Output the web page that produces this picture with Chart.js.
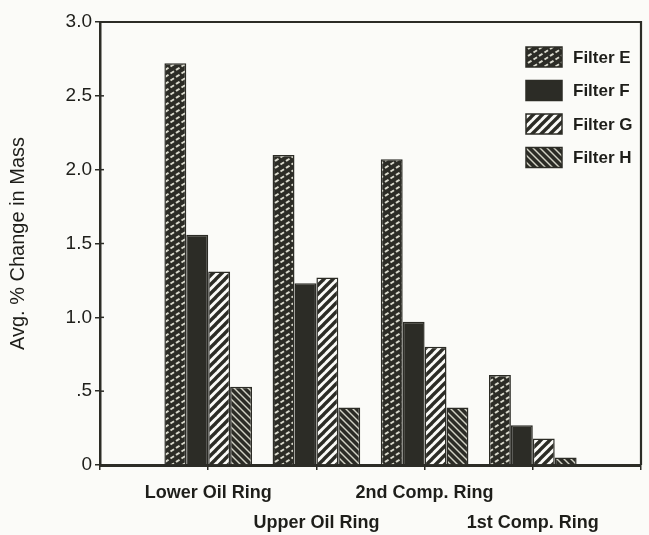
<!DOCTYPE html>
<html>
<head>
<meta charset="utf-8">
<title>Avg. % Change in Mass by ring and filter</title>
<script src="https://cdn.jsdelivr.net/npm/chart.js@4/dist/chart.umd.min.js"></script>
<style>
  html, body { margin: 0; padding: 0; background: #fbfbf8; }
  #wrap { width: 649px; height: 535px; }
</style>
</head>
<body>
<div id="wrap"><canvas id="c" width="649" height="535"></canvas></div>
<script>
// Ring positions along the x axis
const categories = ['Lower Oil Ring', 'Upper Oil Ring', '2nd Comp. Ring', '1st Comp. Ring'];

// Average % change in mass per filter
const filterE = [2.72, 2.10, 2.07, 0.61];
const filterF = [1.56, 1.23, 0.97, 0.27];
const filterG = [1.31, 1.27, 0.80, 0.18];
const filterH = [0.53, 0.39, 0.39, 0.05];

const seriesNames = ['Filter E', 'Filter F', 'Filter G', 'Filter H'];
const yTickLabels = ['0', '.5', '1.0', '1.5', '2.0', '2.5', '3.0'];

const INK = '#2c2c26';
const PAPER = '#fbfbf8';
const TEXT = '#1e1e1a';
const FONT = "'Liberation Sans', Arial, sans-serif";

const canvas = document.getElementById('c');
const ctx = canvas.getContext('2d');

// Diagonal hatch tile; dir > 0 rises to the right, dir < 0 falls to the right.
function hatch(w, h, bg, fg, lw, dir, dashFrac) {
  const t = document.createElement('canvas');
  t.width = w; t.height = h;
  const g = t.getContext('2d');
  g.fillStyle = bg;
  g.fillRect(0, 0, w, h);
  g.strokeStyle = fg;
  g.lineWidth = lw;
  if (dashFrac) {
    const L = Math.hypot(w, h);
    g.setLineDash(dashFrac.map(f => f * L));
  }
  for (let k = -1; k <= 1; k++) {
    g.beginPath();
    if (dir > 0) { g.moveTo(-w, 2 * h + k * h); g.lineTo(2 * w, -h + k * h); }
    else { g.moveTo(-w, -h + k * h); g.lineTo(2 * w, 2 * h + k * h); }
    g.stroke();
  }
  return ctx.createPattern(t, 'repeat');
}

const fills = [
  hatch(11, 7, INK, '#d9d9cd', 2, 1, [0.32, 0.18]),
  INK,
  hatch(9, 9, PAPER, INK, 3.4, 1),
  hatch(7, 7, INK, '#d2d2c5', 1.4, -1)
];

// Empty slots at both ends leave room around the four groups
const xLabels = [[''], ...categories.map((c, i) => i % 2 === 0 ? [c, ''] : ['', c]), ['']];
const pad = arr => [null, ...arr, null];

const values = [filterE, filterF, filterG, filterH];

// Box around the plot and tick marks that cross the value axis
const framePlugin = {
  id: 'frame',
  afterDraw(chart) {
    const { ctx: c, chartArea: a } = chart;
    c.save();
    c.strokeStyle = INK;
    c.lineWidth = 2.2;
    c.beginPath();
    c.moveTo(a.left, a.top);
    c.lineTo(a.right, a.top);
    c.lineTo(a.right, a.bottom);
    c.stroke();
    const ys = chart.scales.y;
    c.lineWidth = 1.5;
    ys.ticks.forEach((t, i) => {
      const py = ys.getPixelForTick(i);
      c.beginPath();
      c.moveTo(a.left, py);
      c.lineTo(a.left + 4, py);
      c.stroke();
    });
    c.restore();
  }
};

// Legend box in the upper right of the plot
const legendPlugin = {
  id: 'boxLegend',
  afterDraw(chart) {
    const { ctx: c, chartArea: a } = chart;
    c.save();
    c.font = 'bold 17px ' + FONT;
    c.textBaseline = 'middle';
    c.textAlign = 'left';
    chart.data.datasets.forEach((ds, i) => {
      const cy = a.top + 35 + i * 33.5;
      const x = a.right - 115;
      c.fillStyle = ds.backgroundColor;
      c.fillRect(x, cy - 10, 36, 20);
      c.strokeStyle = INK;
      c.lineWidth = 1.5;
      c.strokeRect(x, cy - 10, 36, 20);
      c.fillStyle = TEXT;
      c.fillText(ds.label, x + 47, cy + 1);
    });
    c.restore();
  }
};

new Chart(ctx, {
  type: 'bar',
  data: {
    labels: xLabels,
    datasets: values.map((v, i) => ({
      label: seriesNames[i],
      data: pad(v),
      backgroundColor: fills[i],
      borderColor: INK,
      borderWidth: 1.5
    }))
  },
  options: {
    responsive: false,
    animation: false,
    devicePixelRatio: 1,
    layout: { padding: { left: 2, right: 4, top: 22, bottom: 0 } },
    datasets: { bar: { categoryPercentage: 0.81, barPercentage: 1 } },
    plugins: { legend: { display: false }, tooltip: { enabled: false } },
    scales: {
      x: {
        offset: false,
        grid: { offset: false, drawOnChartArea: false, tickLength: 5, color: INK, lineWidth: 1.5 },
        border: { display: true, color: INK, width: 3 },
        ticks: {
          autoSkip: false, maxRotation: 0, minRotation: 0, padding: 8, color: TEXT,
          font: { family: FONT, size: 18, weight: 'bold', lineHeight: 1.65 }
        },
        afterFit(scale) { scale.height = 70; }
      },
      y: {
        min: 0, max: 3,
        ticks: {
          stepSize: 0.5, padding: 3, color: TEXT,
          callback: (v, i) => yTickLabels[i],
          font: { family: FONT, size: 19 }
        },
        grid: { drawOnChartArea: false, tickLength: 5, color: INK, lineWidth: 1.5 },
        border: { color: INK, width: 2.5 },
        title: {
          display: true, text: 'Avg. % Change in Mass', color: TEXT,
          font: { family: FONT, size: 20 }
        },
        afterFit(scale) { scale.width = 98; }
      }
    }
  },
  plugins: [framePlugin, legendPlugin]
});
</script>
</body>
</html>
